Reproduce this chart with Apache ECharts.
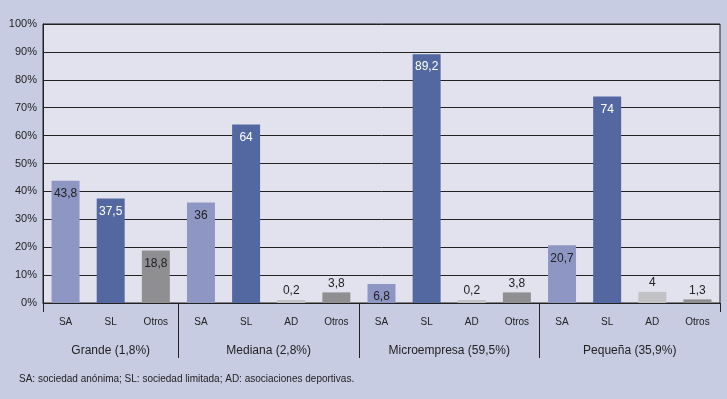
<!DOCTYPE html>
<html>
<head>
<meta charset="utf-8">
<script src="https://cdn.jsdelivr.net/npm/echarts@6/dist/echarts.min.js"></script>
<style>
  html, body { margin: 0; padding: 0; background: #c8cce2; }
  #chart { width: 727px; height: 399px; }
</style>
</head>
<body>
<div id="chart"></div>
<script>
// datos
const categories = ['SA', 'SL', 'Otros', 'SA', 'SL', 'AD', 'Otros', 'SA', 'SL', 'AD', 'Otros', 'SA', 'SL', 'AD', 'Otros'];
const values = [43.8, 37.5, 18.8, 36, 64, 0.2, 3.8, 6.8, 89.2, 0.2, 3.8, 20.7, 74, 4, 1.3];
const groups = ['Grande (1,8%)', 'Mediana (2,8%)', 'Microempresa (59,5%)', 'Pequeña (35,9%)'];
const groupSizes = [3, 4, 4, 4];
const yTicks = [0, 10, 20, 30, 40, 50, 60, 70, 80, 90, 100];
const note = 'SA: sociedad anónima; SL: sociedad limitada; AD: asociaciones deportivas.';

const colors = { SA: '#8e96c4', SL: '#5368a1', AD: '#c2c2c4', Otros: '#8f8f91' };
const textColors = { SA: '#222', SL: '#fff', AD: '#222', Otros: '#222' };

// límites y centros de los grupos
const bounds = [];
const centers = [];
let acc = 0;
groupSizes.forEach((n) => {
    centers.push(acc + n / 2);
    acc += n;
    bounds.push(acc);
});
bounds.pop();

const fmt = (v) => String(v).replace('.', ',');

const chart = echarts.init(document.getElementById('chart'));
chart.setOption({
    backgroundColor: '#c8cce2',
    textStyle: { fontFamily: 'Liberation Sans, Arial, sans-serif' },
    title: {
        text: note,
        left: 14,
        top: 369,
        textStyle: { fontSize: 10, fontWeight: 'normal', color: '#222' }
    },
    grid: {
        left: 43, right: 7, top: 24, bottom: 96,
        show: true, backgroundColor: '#e2e2ee', borderColor: '#222', borderWidth: 1
    },
    xAxis: [
        {
            type: 'category',
            data: categories,
            axisLine: { lineStyle: { color: '#222' } },
            axisTick: { show: false },
            axisLabel: { fontSize: 10, color: '#222', margin: 14 }
        },
        {
            type: 'value',
            min: 0, max: acc,
            position: 'bottom',
            axisLine: { show: false },
            splitLine: { show: false },
            axisTick: { show: true, customValues: bounds, length: 55, lineStyle: { color: '#222' } },
            axisLabel: {
                customValues: centers,
                fontSize: 12, color: '#222', margin: 42,
                formatter: (v) => groups[centers.indexOf(v)]
            }
        },
        {
            type: 'value',
            min: 0, max: acc,
            position: 'bottom',
            axisLine: { show: false },
            splitLine: { show: false },
            axisTick: { show: true, customValues: [0, acc], length: 9, lineStyle: { color: '#222' } },
            axisLabel: { show: false }
        }
    ],
    yAxis: {
        type: 'value',
        min: 0, max: 100, interval: 10,
        axisLine: { show: true, lineStyle: { color: '#222' } },
        axisTick: { show: false },
        splitLine: { lineStyle: { color: '#222', width: 1 } },
        axisLabel: { fontSize: 11, color: '#222', margin: 6, formatter: (v) => yTicks.includes(v) ? v + '%' : '' }
    },
    series: [{
        type: 'bar',
        barWidth: '62%',
        barMinHeight: 3,
        data: values.map((v, i) => {
            const c = categories[i];
            const small = v < 5;
            return {
                value: v,
                itemStyle: { color: colors[c] },
                label: {
                    show: true,
                    position: small ? 'top' : 'insideTop',
                    distance: small ? 3 : 7,
                    color: small ? '#222' : textColors[c],
                    fontSize: 12,
                    formatter: () => fmt(v)
                }
            };
        })
    }]
});
</script>
</body>
</html>
